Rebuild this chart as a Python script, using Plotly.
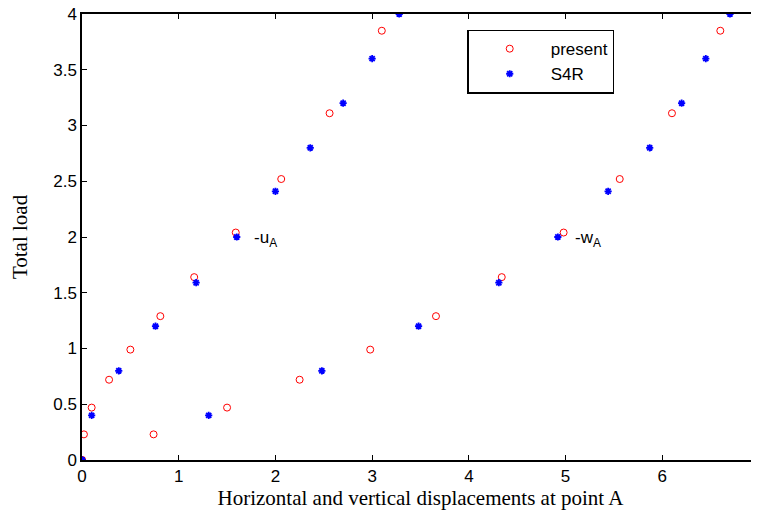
import plotly.graph_objects as go

# -u_A branch
u_present_x = [0.0, 0.02, 0.10, 0.28, 0.50, 0.81, 1.16, 1.59, 2.06, 2.56, 3.10]
u_present_y = [0.0, 0.23, 0.47, 0.72, 0.99, 1.29, 1.64, 2.04, 2.52, 3.11, 3.85]
u_s4r_x = [0.0, 0.10, 0.38, 0.76, 1.18, 1.60, 2.00, 2.36, 2.70, 3.00, 3.28]
u_s4r_y = [0.0, 0.40, 0.80, 1.20, 1.59, 2.00, 2.41, 2.80, 3.20, 3.60, 4.00]

# -w_A branch
w_present_x = [0.0, 0.74, 1.50, 2.25, 2.98, 3.66, 4.34, 4.98, 5.56, 6.10, 6.60]
w_present_y = [0.0, 0.23, 0.47, 0.72, 0.99, 1.29, 1.64, 2.04, 2.52, 3.11, 3.85]
w_s4r_x = [0.0, 1.31, 2.48, 3.48, 4.31, 4.92, 5.44, 5.87, 6.20, 6.45, 6.70]
w_s4r_y = [0.0, 0.40, 0.80, 1.20, 1.59, 2.00, 2.41, 2.80, 3.20, 3.60, 4.00]

x_ticks = [0, 1, 2, 3, 4, 5, 6, 7]
y_ticks = [0, 0.5, 1, 1.5, 2, 2.5, 3, 3.5, 4]

red_marker = dict(symbol="circle-open", size=7, color="red", line=dict(width=1, color="red"))
blue_marker = dict(symbol="asterisk-open", size=6, color="blue", line=dict(width=1.8, color="blue"))

fig = go.Figure()
fig.add_trace(go.Scatter(x=u_present_x + [None] + w_present_x,
                         y=u_present_y + [None] + w_present_y,
                         mode="markers", name="present", marker=red_marker))
fig.add_trace(go.Scatter(x=u_s4r_x + [None] + w_s4r_x,
                         y=u_s4r_y + [None] + w_s4r_y,
                         mode="markers", name="S4R", marker=blue_marker))

fig.add_annotation(x=1.76, y=1.98, xref="x", yref="y", text="-u<sub>A</sub>",
                   showarrow=False, xanchor="left", yanchor="middle",
                   font=dict(family="Liberation Sans, Arial", size=17, color="black"))
fig.add_annotation(x=5.08, y=1.98, xref="x", yref="y", text="-w<sub>A</sub>",
                   showarrow=False, xanchor="left", yanchor="middle",
                   font=dict(family="Liberation Sans, Arial", size=17, color="black"))

axis_common = dict(showgrid=False, zeroline=False, showline=True, linecolor="black",
                   linewidth=1.5, mirror="ticks", ticks="inside", ticklen=5,
                   tickcolor="black", automargin=False, ticklabeloverflow="allow",
                   tickfont=dict(family="Liberation Sans, Arial", size=17, color="black"))

fig.update_layout(
    width=751, height=507,
    margin=dict(l=74, r=0, t=6, b=55),
    paper_bgcolor="white", plot_bgcolor="white",
    xaxis=dict(range=[0, 7], tickvals=x_ticks,
               title=dict(text="Horizontal and vertical displacements at point A",
                          font=dict(family="Liberation Serif, Times New Roman", size=21, color="black"),
                          standoff=2),
               **axis_common),
    yaxis=dict(range=[0, 4], tickvals=y_ticks,
               title=dict(text="Total load",
                          font=dict(family="Liberation Serif, Times New Roman", size=21, color="black"),
                          standoff=22),
               **axis_common),
    legend=dict(x=0.569, y=0.965, xanchor="left", yanchor="top",
                bgcolor="white", bordercolor="black", borderwidth=1.5,
                font=dict(family="Liberation Sans, Arial", size=17, color="black"),
                itemwidth=72, tracegroupgap=2),
    showlegend=True,
)

fig.write_html("out.html")
